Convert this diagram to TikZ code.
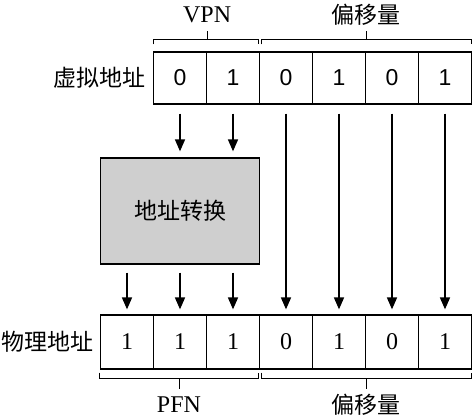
\documentclass[tikz,border=0pt]{standalone}
\usepackage{fontspec}
\setmainfont{Liberation Serif}
\newfontfamily\cjk{Noto Sans CJK SC}
\newfontfamily\arialf{Liberation Sans}
\usetikzlibrary{arrows.meta,calc}
\begin{document}
\begin{tikzpicture}[x=1pt,y=-1pt,
  cellt/.style={draw,line width=1.2pt,minimum width=53pt,minimum height=52pt,inner sep=0pt,font=\arialf\fontsize{23}{23}\selectfont},
  cellb/.style={draw,line width=1.2pt,minimum width=53pt,minimum height=54pt,inner sep=0pt,font=\fontsize{24}{24}\selectfont},
  arr/.style={line width=1.6pt,-{Triangle[length=12pt,width=10pt]}},
  brk/.style={line width=1pt},
  lbl/.style={inner sep=0pt,font=\fontsize{24}{24}\selectfont},
  cjklbl/.style={inner sep=0pt,font=\cjk\fontsize{23}{24}\selectfont}]
\useasboundingbox (0,0) rectangle (472,419);
% top row
\node[cellt] (t1) at (180,78) {0};
\node[cellt] (t2) at (233,78) {1};
\node[cellt] (t3) at (286,78) {0};
\node[cellt] (t4) at (339,78) {1};
\node[cellt] (t5) at (392,78) {0};
\node[cellt] (t6) at (445,78) {1};
\node[cjklbl,anchor=east] (va) at ([xshift=-7pt]t1.west) {虚拟地址};
% bottom row
\node[cellb] (b1) at (127,342) {1};
\node[cellb] (b2) at (180,342) {1};
\node[cellb] (b3) at (233,342) {1};
\node[cellb] (b4) at (286,342) {0};
\node[cellb] (b5) at (339,342) {1};
\node[cellb] (b6) at (392,342) {0};
\node[cellb] (b7) at (445,342) {1};
\node[cjklbl,anchor=east] (pa) at ([xshift=-6pt]b1.west) {物理地址};
% translation box
\node[draw,line width=1.3pt,fill=black!19,minimum width=159pt,minimum height=106pt,cjklbl] (xl) at (180,211) {地址转换};
% arrows into box
\draw[arr,shorten <=9pt,shorten >=6pt] (t1.south) -- (t1.south |- xl.north);
\draw[arr,shorten <=9pt,shorten >=6pt] (t2.south) -- (t2.south |- xl.north);
% offset arrows
\draw[arr,shorten <=9pt,shorten >=5pt] (t3.south) -- (b4.north);
\draw[arr,shorten <=9pt,shorten >=5pt] (t4.south) -- (b5.north);
\draw[arr,shorten <=9pt,shorten >=5pt] (t5.south) -- (b6.north);
\draw[arr,shorten <=9pt,shorten >=5pt] (t6.south) -- (b7.north);
% arrows out of box
\draw[arr,shorten <=8pt,shorten >=5pt] (b1.north |- xl.south) -- (b1.north);
\draw[arr,shorten <=8pt,shorten >=5pt] (b2.north |- xl.south) -- (b2.north);
\draw[arr,shorten <=8pt,shorten >=5pt] (b3.north |- xl.south) -- (b3.north);
% top brackets
\draw[brk] ($(t1.north west)+(1,-7)$) -- ++(0,-5) -| ($(t2.north east)+(-2,-7)$);
\draw[brk] ($(t1.north east)+(0,-12)$) -- ++(0,-8);
\draw[brk] ($(t3.north west)+(3,-7)$) -- ++(0,-5) -| ($(t6.north east)+(-1,-7)$);
\draw[brk] ($(t4.north east)+(0,-12)$) -- ++(0,-8);
\node[lbl] (vpn) at ($(t1.north east)+(0,-37)$) {VPN};
\node[cjklbl] (o1) at ($(t4.north east)+(0,-37)$) {偏移量};
% bottom brackets
\draw[brk] ($(b1.south west)+(0,3)$) -- ++(0,6) -| ($(b3.south east)+(-2,3)$);
\draw[brk] ($(b2.south)+(-1,9)$) -- ++(0,10);
\draw[brk] ($(b4.south west)+(3,3)$) -- ++(0,6) -| ($(b7.south east)+(-1,3)$);
\draw[brk] ($(b5.south east)+(0,9)$) -- ++(0,10);
\node[lbl] (pfn) at ($(b2.south)+(-1,35)$) {PFN};
\node[cjklbl] (o2) at ($(b5.south east)+(0,35)$) {偏移量};
\end{tikzpicture}
\end{document}
